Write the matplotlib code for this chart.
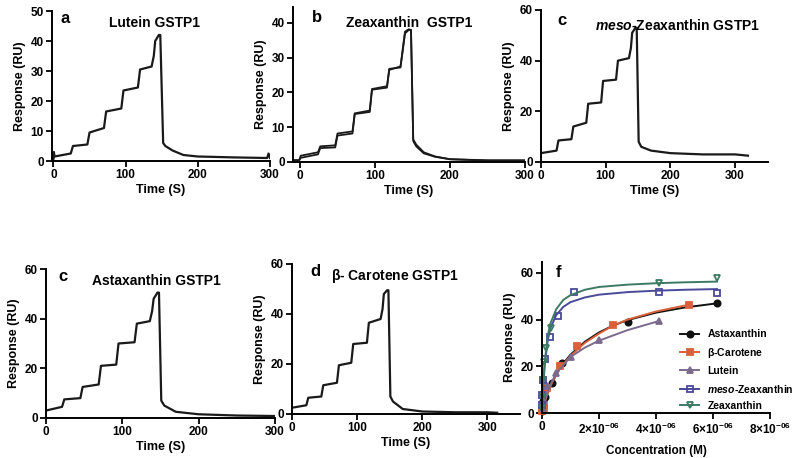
import matplotlib
matplotlib.use("Agg")
import matplotlib.pyplot as plt

plt.rcParams['font.family'] = ['Liberation Sans', 'DejaVu Sans']
plt.rcParams['font.weight'] = 'bold'
plt.rcParams['mathtext.fontset'] = 'custom'
plt.rcParams['mathtext.rm'] = 'Liberation Sans:bold'
plt.rcParams['mathtext.it'] = 'Liberation Sans:italic:bold'
plt.rcParams['axes.linewidth'] = 1.4

# --- sensorgram traces (time in s, response in RU) ---
lutein_t = [-1, 0, 0.6, 1.5, 24, 27, 47, 50, 70, 73, 94, 97, 117, 120, 136, 139, 141, 146, 148, 152, 155, 165, 180, 200, 250, 296, 298, 300]
lutein_r = [0.5, 0.5, 3, 1.5, 2.5, 5, 5.5, 9.5, 11, 16.5, 17.5, 23.5, 24.5, 30.5, 31.5, 35, 40, 42, 42, 6, 5, 3.5, 2, 1.5, 1.2, 1, 2.5, 1]

zea_t = [-10, -1, 1, 24, 27, 47, 50, 70, 73, 93, 96, 116, 119, 134, 137, 140, 145, 148, 151, 155, 165, 180, 200, 250, 300]
zea_r1 = [0.5, 0.5, 1.8, 2.8, 4.5, 4.8, 8.2, 8.8, 14, 14.8, 21, 21.8, 26.5, 27.5, 32, 37, 38, 38, 6, 4.5, 2.5, 1.5, 0.8, 0.5, 0.5]
zea_r2 = [0.5, 0.5, 1.2, 2.2, 4.0, 4.2, 7.6, 8.2, 13.8, 14.4, 20.8, 21.4, 26.8, 27.2, 32.5, 37.5, 38.2, 38, 6.5, 5, 2.8, 1.6, 0.8, 0.4, 0.4]

meso_t = [0, 24, 27, 47, 50, 70, 73, 93, 96, 116, 119, 136, 139, 141, 146, 148, 151, 155, 170, 200, 250, 300, 320]
meso_r = [3.5, 4.5, 8.5, 9, 14, 15.5, 23, 23.5, 32, 32.5, 40, 41, 45, 51, 53, 53, 8, 6, 4.5, 3.5, 3, 3, 2.5]

asta_t = [0, 21, 24, 45, 48, 69, 72, 92, 95, 116, 119, 136, 139, 141, 146, 148, 151, 155, 170, 200, 250, 300]
asta_r = [3, 4.5, 7.5, 8, 12.5, 13.5, 21, 21.5, 30, 30.5, 38, 39, 43, 48, 50.5, 50.5, 7, 5, 2.5, 1.5, 1, 0.8]

bcar_t = [0, 22, 25, 45, 48, 69, 72, 91, 94, 115, 118, 136, 139, 141, 146, 148, 151, 155, 170, 200, 250, 300, 315]
bcar_r = [2.5, 3.5, 6.5, 7, 11.5, 12.5, 19.5, 20.5, 28, 28.5, 36.5, 38, 42, 48, 49.5, 49.5, 7, 5, 2, 1, 0.7, 0.7, 0.5]

# --- panel f: binding points and fitted curves (concentration in uM here, scaled below) ---
names = ['Astaxanthin', r'$\mathrm{\beta}$-Carotene', 'Lutein', r'$\mathit{meso}$-Zeaxanthin', 'Zeaxanthin']
colors = ['#111111', '#d9603b', '#7b6a8c', '#4a4a9a', '#3d7a64']
markers = ['o', 's', '^', 's', 'v']
filled = [True, True, True, False, False]

pts_x = [
    [0.0, 0.02, 0.05, 0.12, 0.35, 0.7, 3.0, 6.15],
    [0.0, 0.03, 0.06, 0.18, 0.62, 1.24, 2.5, 5.15],
    [0.02, 0.06, 0.18, 0.5, 1.0, 2.0, 4.1],
    [0.0, 0.0, 0.04, 0.12, 0.27, 0.56, 1.12, 4.1, 6.14],
    [0.0, 0.02, 0.04, 0.06, 0.15, 0.32, 4.1, 6.14],
]
pts_y = [
    [1, 3, 5, 7, 12.9, 21.4, 38.9, 47.1],
    [1, 1.5, 2, 10.7, 20, 28.6, 37.9, 46.4],
    [2, 5, 11.4, 17, 24, 31.4, 39.6],
    [3.6, 7.9, 14.3, 23.1, 32.6, 41.7, 51.9, 51.9, 51.4],
    [2, 7, 14.3, 21.7, 27.9, 36.4, 55.7, 57.9],
]
fit_x = [
    [0, 0.05, 0.12, 0.25, 0.35, 0.5, 0.7, 1.0, 1.5, 2.0, 2.5, 3.0, 4.0, 5.0, 6.15],
    [0, 0.05, 0.18, 0.35, 0.62, 1.0, 1.5, 2.0, 2.5, 3.0, 4.0, 5.15],
    [0, 0.05, 0.18, 0.35, 0.5, 1.0, 1.5, 2.0, 3.0, 4.1],
    [0, 0.02, 0.05, 0.1, 0.2, 0.3, 0.5, 0.75, 1.0, 1.5, 2.0, 3.0, 4.0, 5.0, 6.14],
    [0, 0.02, 0.05, 0.1, 0.2, 0.3, 0.5, 0.75, 1.0, 1.5, 2.0, 3.0, 4.0, 5.0, 6.14],
]
fit_y = [
    [0, 2.5, 6, 10, 13, 16.5, 20.5, 25, 30.5, 34.5, 37.5, 39.8, 43, 45.2, 47],
    [0, 2.5, 8, 13, 19, 24.5, 30, 34, 37.5, 40, 43.5, 46.4],
    [0, 3, 9, 13.5, 17, 24, 28, 31, 35.5, 39.4],
    [0, 6, 13, 21, 31, 36.5, 42, 45.5, 47.5, 49.5, 50.7, 51.8, 52.4, 52.8, 53.1],
    [0, 6.5, 14, 22.5, 33, 38.5, 44.5, 48.5, 50.5, 52.8, 54, 55, 55.6, 56, 56.3],
]
conc_ticks = [0, 2e-6, 4e-6, 6e-6, 8e-6]
conc_labels = ['0', r'2×10$^{\mathregular{-06}}$', r'4×10$^{\mathregular{-06}}$',
               r'6×10$^{\mathregular{-06}}$', r'8×10$^{\mathregular{-06}}$']

W, H = 800, 458
fig = plt.figure(figsize=(8, 4.58), dpi=100)


def make_ax(l, t, r, b):
    ax = fig.add_axes([l / W, 1 - b / H, (r - l) / W, (b - t) / H])
    for s in ['top', 'right']:
        ax.spines[s].set_visible(False)
    ax.tick_params(direction='out', length=4, width=1.3, labelsize=8.5, pad=2)
    for lab in ax.get_xticklabels() + ax.get_yticklabels():
        lab.set_fontweight('bold')
    return ax


def sensorgram(ax, letter, title, lx, tx, ty):
    ax.set_xlabel('Time (S)', fontsize=9, fontweight='bold', labelpad=2)
    ax.set_ylabel('Response (RU)', fontsize=9, fontweight='bold', labelpad=3)
    ax.text(lx, ty, letter, transform=ax.transAxes, fontsize=12, fontweight='bold', va='center')
    ax.text(tx, ty - 0.03, title, transform=ax.transAxes, fontsize=10, fontweight='bold',
            ha='center', va='center')


# a - Lutein
ax = make_ax(52, 11, 270, 161)
ax.plot(lutein_t, lutein_r, color='#1a1a1a', lw=1.6)
ax.set_xlim(-2, 300)
ax.set_ylim(0, 50)
ax.set_xticks([0, 100, 200, 300])
ax.set_yticks([0, 10, 20, 30, 40, 50])
sensorgram(ax, 'a', 'Lutein GSTP1', 0.04, 0.47, 0.95)

# b - Zeaxanthin
ax = make_ax(293, 7, 525, 162)
ax.plot(zea_t, zea_r1, color='#1a1a1a', lw=1.3)
ax.plot(zea_t, zea_r2, color='#1a1a1a', lw=1.3)
ax.set_xlim(-9.3, 300)
ax.set_ylim(0, 44.6)
ax.set_xticks([0, 100, 200, 300])
ax.set_yticks([0, 10, 20, 30, 40])
sensorgram(ax, 'b', 'Zeaxanthin  GSTP1', 0.08, 0.5, 0.93)

# c - meso-Zeaxanthin
ax = make_ax(541, 10, 768, 162)
ax.plot(meso_t, meso_r, color='#1a1a1a', lw=1.6)
ax.set_xlim(0, 351)
ax.set_ylim(0, 60)
ax.set_xticks([0, 100, 200, 300])
ax.set_yticks([0, 20, 40, 60])
sensorgram(ax, 'c', r'$\mathit{meso}$-Zeaxanthin GSTP1', 0.07, 0.6, 0.93)

# c - Astaxanthin
ax = make_ax(46, 269, 275, 418)
ax.plot(asta_t, asta_r, color='#1a1a1a', lw=1.6)
ax.set_xlim(0, 300)
ax.set_ylim(0, 60)
ax.set_xticks([0, 100, 200, 300])
ax.set_yticks([0, 20, 40, 60])
sensorgram(ax, 'c', 'Astaxanthin GSTP1', 0.055, 0.48, 0.95)

# d - beta-Carotene
ax = make_ax(292, 264, 520, 414)
ax.plot(bcar_t, bcar_r, color='#1a1a1a', lw=1.6)
ax.set_xlim(0, 350)
ax.set_ylim(0, 60)
ax.set_xticks([0, 100, 200, 300])
ax.set_yticks([0, 20, 40, 60])
sensorgram(ax, 'd', r'$\mathrm{\beta}$- Carotene GSTP1', 0.08, 0.45, 0.95)

# f - binding curves
ax = make_ax(542, 262, 770, 413)
handles = []
for i in range(len(names)):
    sx = [v * 1e-6 for v in fit_x[i]]
    px = [v * 1e-6 for v in pts_x[i]]
    ax.plot(sx, fit_y[i], color=colors[i], lw=1.4)
    mfc = colors[i] if filled[i] else 'none'
    ax.plot(px, pts_y[i], ls='none', marker=markers[i], ms=4.5, mfc=mfc,
            mec=colors[i], mew=1.3, clip_on=False)
    h, = ax.plot([], [], color=colors[i], lw=1.4, marker=markers[i], ms=4.5,
                 mfc=mfc, mec=colors[i], mew=1.3)
    handles.append(h)
ax.set_xlim(0, 8e-6)
ax.set_ylim(0, 64.7)
ax.set_xticks(conc_ticks)
ax.set_xticklabels(conc_labels)
ax.set_yticks([0, 20, 40, 60])
ax.set_xlabel('Concentration (M)', fontsize=8.5, fontweight='bold', labelpad=6)
ax.set_ylabel('Response (RU)', fontsize=9, fontweight='bold', labelpad=3)
ax.text(0.06, 0.93, 'f', transform=ax.transAxes, fontsize=12, fontweight='bold', va='center')
leg = fig.legend(handles, names, loc='upper left', bbox_to_anchor=(676 / W, 1 - 325 / H),
                 frameon=False, fontsize=7.5, handlelength=1.8, handletextpad=0.8,
                 labelspacing=0.62, borderaxespad=0)
for t in leg.get_texts():
    t.set_fontweight('bold')

fig.savefig('out.png', dpi=100)
